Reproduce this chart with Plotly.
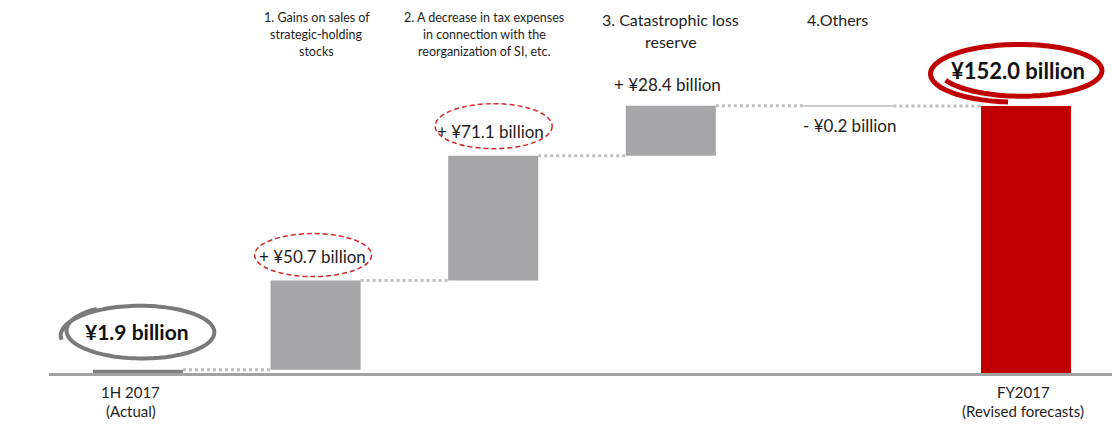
import numpy as np
import plotly.graph_objects as go

# ---- data -------------------------------------------------------------
step_names = ["1H 2017", "Gains on sales", "Tax expenses", "Catastrophic loss reserve", "Others", "FY2017"]
step_values = [1.9, 50.7, 71.1, 28.4, -0.2, 152.0]
step_kinds = ["total", "delta", "delta", "delta", "delta", "total"]

headings = [
    [],
    ["1. Gains on sales of", "strategic-holding", "stocks"],
    ["2. A decrease in tax expenses", "in connection with the", "reorganization of SI, etc."],
    ["3. Catastrophic loss", "reserve"],
    ["4.Others"],
    [],
]
bottom_labels = [["1H 2017", "(Actual)"], [], [], [], [], ["FY2017", "(Revised forecasts)"]]

# ---- styling ----------------------------------------------------------
FONT = "Lato, Carlito, Calibri, sans-serif"
TXT = "#1e1e1e"
GRAY_BAR = "#a6a5a8"
START_BAR = "#7f7f7f"
OTHERS_BAR = "#bfbfbf"
RED = "#c00000"
DOT = "#bfbfbf"
BAR_W = 0.507

# ---- waterfall geometry from the values -------------------------------
bases, tops, running = [], [], 0.0
for v, k in zip(step_values, step_kinds):
    if k == "total":
        base = 0.0
        running = v
    else:
        base = running
        running = running + v
    bases.append(base)
    tops.append(running)

xs = list(range(len(step_values)))
bar_y = [t - b for t, b in zip(tops, bases)]

colors = []
for i, (v, k) in enumerate(zip(step_values, step_kinds)):
    if k == "total":
        colors.append(START_BAR if i == 0 else RED)
    else:
        colors.append(GRAY_BAR if v > 0 else OTHERS_BAR)

fig = go.Figure()
fig.add_trace(go.Bar(
    x=xs, y=bar_y, base=bases, width=BAR_W,
    marker=dict(color=colors, line=dict(color=colors, width=[0, 0, 0, 0, 1, 0])),
    hoverinfo="skip", showlegend=False,
))

# dotted connectors between consecutive bars
cx, cy = [], []
for i in range(len(xs) - 1):
    cx += [xs[i] + BAR_W / 2, xs[i + 1] - BAR_W / 2, None]
    cy += [tops[i], tops[i], None]
fig.add_trace(go.Scatter(
    x=cx, y=cy, mode="lines",
    line=dict(color=DOT, width=3, dash="3px,3px"),
    hoverinfo="skip", showlegend=False,
))

annotations = []
shapes = []

# value labels
for i, (v, k) in enumerate(zip(step_values, step_kinds)):
    if k == "total":
        text = f"<b>¥{v:.1f} billion</b>"
        annotations.append(dict(x=i, y=tops[i], xref="x", yref="y", text=text,
                                showarrow=False, yanchor="middle",
                                xshift=(-1 if i == 0 else -8), yshift=(38 if i == 0 else 35),
                                font=dict(family=FONT, size=(21 if i == 0 else 22), color="#111111")))
    elif v > 0:
        annotations.append(dict(x=i, y=tops[i], xref="x", yref="y",
                                text=f"+ ¥{v:.1f} billion", showarrow=False,
                                yanchor="middle", xshift=-3, yshift=(21 if i == 3 else 24),
                                font=dict(family=FONT, size=17, color=TXT)))
    else:
        annotations.append(dict(x=i, y=tops[i], xref="x", yref="y",
                                text=f"- ¥{abs(v):.1f} billion", showarrow=False,
                                yanchor="middle", xshift=1, yshift=-19,
                                font=dict(family=FONT, size=17, color=TXT)))

# category headings above the chart
head_style = {1: (12.5, 17, 1, 17), 2: (12.5, 17, -9, 17), 3: (16, 22, 0, 19), 4: (16, 22, -11, 19)}
for i, lines in enumerate(headings):
    if not lines:
        continue
    size, gap, dx, y0 = head_style[i]
    for j, line in enumerate(lines):
        annotations.append(dict(x=i, y=1, xref="x", yref="paper", text=line,
                                showarrow=False, yanchor="middle", xshift=dx,
                                yshift=-(y0 + j * gap),
                                font=dict(family=FONT, size=size, color=TXT)))

# labels under the axis
for i, lines in enumerate(bottom_labels):
    for j, line in enumerate(lines):
        annotations.append(dict(x=i, y=0, xref="x", yref="paper", text=line,
                                showarrow=False, yanchor="middle",
                                xshift=(-7 if i == 0 else -3), yshift=-(19 + j * 19),
                                font=dict(family=FONT, size=15, color=TXT)))

# dashed highlight rings around the two largest increases
for i, (x0, x1, y0, y1) in {1: (-61, 56, 4, 47), 2: (-58, 59, 7, 52)}.items():
    shapes.append(dict(type="circle", xref="x", yref="y",
                       xsizemode="pixel", ysizemode="pixel",
                       xanchor=i, yanchor=tops[i],
                       x0=x0, x1=x1, y0=y0, y1=y1,
                       line=dict(color="#d42a2a", width=1.5, dash="5px,3px")))


def loose_ring(cx, cy, rx, ry, start, extra, grow):
    """Slightly overshooting freehand ellipse as an SVG path (pixel units)."""
    t = np.linspace(start, start + 2 * np.pi + extra, 160)
    s = 1 - grow / 2 + grow * (t - start) / (2 * np.pi + extra)
    px = cx + rx * s * np.cos(t)
    py = cy + ry * s * np.sin(t) + 2.5 * np.sin(t * 0.5)
    return "M " + " L ".join(f"{a:.1f},{b:.1f}" for a, b in zip(px, py))


# freehand rings around the start and end totals
shapes.append(dict(type="path", xref="x", yref="y", xsizemode="pixel", ysizemode="pixel",
                   xanchor=0, yanchor=tops[0],
                   path=loose_ring(1, 37, 75, 28, 2.2, 1.1, 0.09),
                   line=dict(color="#7a7a7a", width=4)))
shapes.append(dict(type="path", xref="x", yref="y", xsizemode="pixel", ysizemode="pixel",
                   xanchor=5, yanchor=tops[5],
                   path=loose_ring(-8, 35, 85, 28, 3.6, 1.0, 0.1),
                   line=dict(color=RED, width=5)))

fig.update_layout(
    width=1112, height=425,
    margin=dict(l=49, r=0, t=0, b=52),
    paper_bgcolor="white", plot_bgcolor="white",
    barmode="overlay",
    xaxis=dict(range=[-0.501, 5.484], showticklabels=False, showgrid=False,
               zeroline=False, showline=True, linecolor="#a3a3a3", linewidth=3,
               ticks="", fixedrange=True),
    yaxis=dict(range=[0, 212.3], visible=False, fixedrange=True),
    annotations=annotations,
    shapes=shapes,
    showlegend=False,
)

fig.write_html("out.html", config={"displayModeBar": False})
